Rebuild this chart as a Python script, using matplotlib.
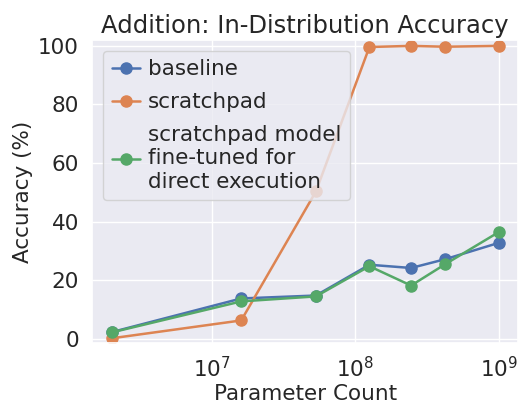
import matplotlib
matplotlib.use("Agg")
import matplotlib.pyplot as plt
import seaborn as sns

# Model sizes (parameter count)
params = [2e6, 1.6e7, 5.3e7, 1.25e8, 2.44e8, 4.22e8, 1.0e9]

# Accuracy (%) per series
baseline = [2.3, 13.8, 14.8, 25.3, 24.2, 27.2, 32.8]
scratchpad = [0.2, 6.3, 50.3, 99.6, 100.0, 99.7, 100.0]
finetuned = [2.2, 12.8, 14.5, 24.8, 18.2, 25.5, 36.5]

labels = ['baseline', 'scratchpad',
          'scratchpad model\nfine-tuned for\ndirect execution']

sns.set_theme(style='darkgrid')
plt.rcParams['font.family'] = ['DejaVu Sans']

fig, ax = plt.subplots(figsize=(5.21, 4.04), dpi=100)

for serie, lab in zip([baseline, scratchpad, finetuned], labels):
    ax.plot(params, serie, marker='o', markersize=8, linewidth=1.8, label=lab)

ax.set_xscale('log')
ax.set_ylim(-1.4, 102)
ax.set_yticks([0, 20, 40, 60, 80, 100])
ax.set_title('Addition: In-Distribution Accuracy', fontsize=17.5, pad=5)
ax.set_xlabel('Parameter Count', fontsize=15.5, labelpad=2)
ax.set_ylabel('Accuracy (%)', fontsize=15.5)
ax.tick_params(labelsize=15.5)
ax.legend(loc='upper left', fontsize=15.5, handlelength=1.3,
          handletextpad=0.4, borderaxespad=0.5, labelspacing=0.6)

fig.subplots_adjust(left=0.177, right=0.995, top=0.901, bottom=0.151)
fig.savefig('out.png')
